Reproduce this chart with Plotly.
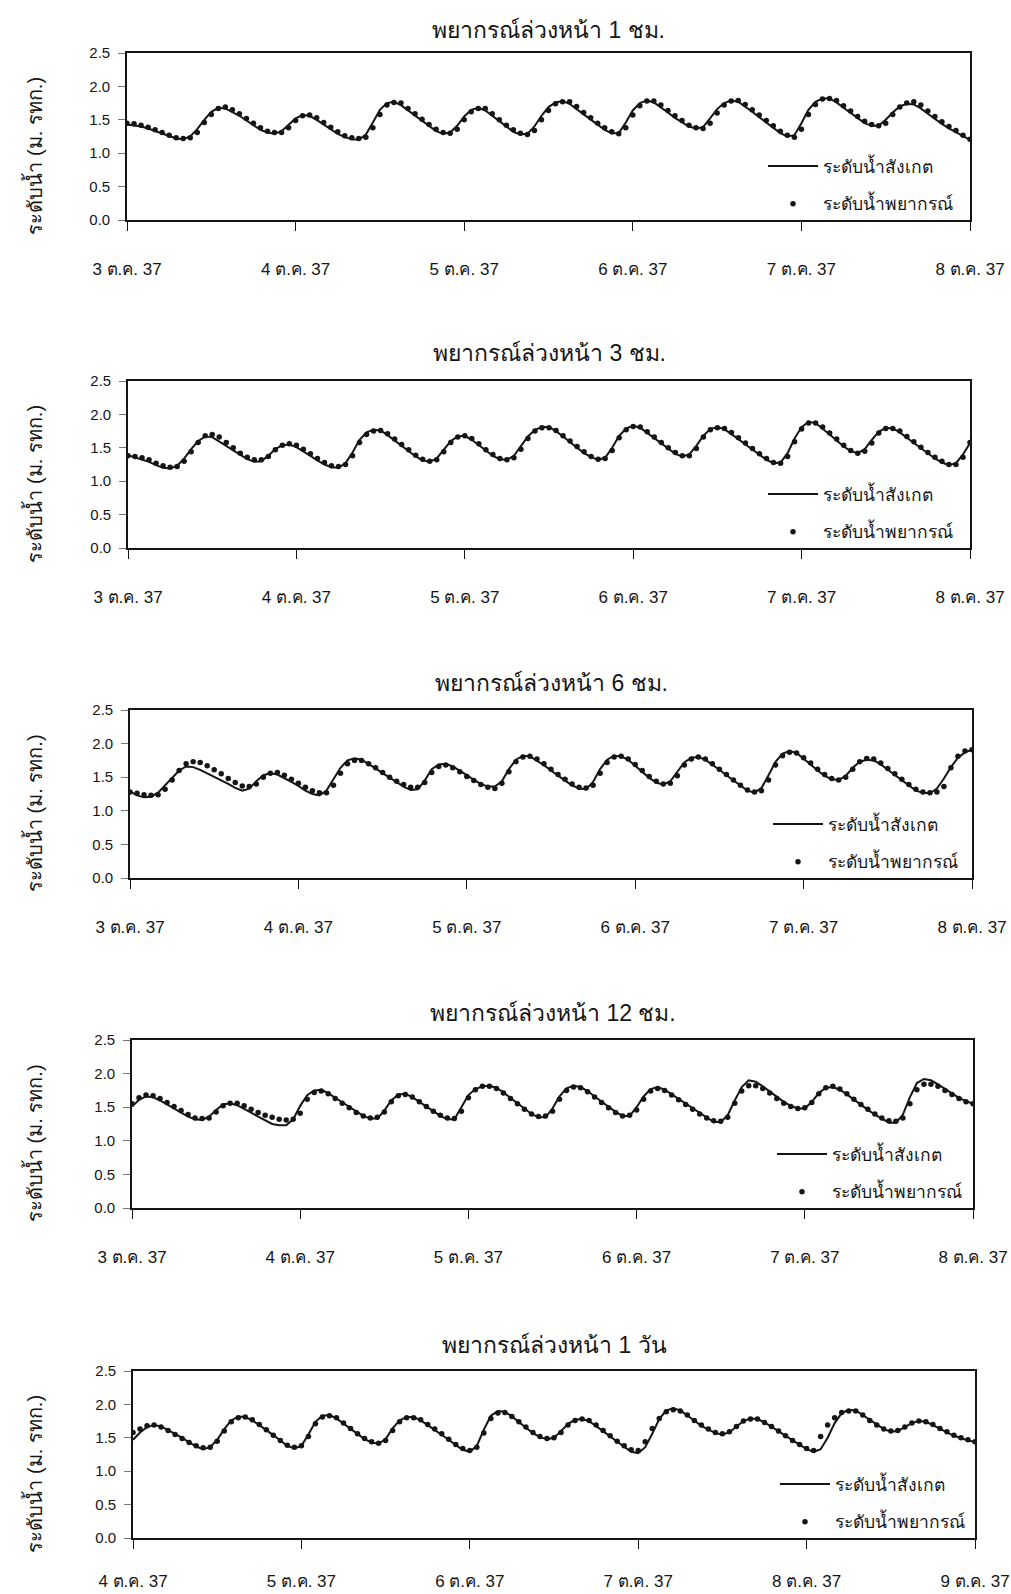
import plotly.graph_objects as go

W, H = 1011, 1594

titles = ["พยากรณ์ล่วงหน้า 1 ชม.", "พยากรณ์ล่วงหน้า 3 ชม.", "พยากรณ์ล่วงหน้า 6 ชม.",
          "พยากรณ์ล่วงหน้า 12 ชม.", "พยากรณ์ล่วงหน้า 1 วัน"]
y_title = "ระดับน้ำ (ม. รทก.)"
obs_name = "ระดับน้ำสังเกต"
pred_name = "ระดับน้ำพยากรณ์"
dates_a = ["3 ต.ค. 37", "4 ต.ค. 37", "5 ต.ค. 37", "6 ต.ค. 37", "7 ต.ค. 37", "8 ต.ค. 37"]
dates_b = ["4 ต.ค. 37", "5 ต.ค. 37", "6 ต.ค. 37", "7 ต.ค. 37", "8 ต.ค. 37", "9 ต.ค. 37"]
tick_hours = [0, 24, 48, 72, 96, 120]
hours = list(range(121))

# ---- 1 hour ahead ----
obs_1h = [1.43, 1.42, 1.40, 1.37, 1.33, 1.29, 1.25, 1.22, 1.21, 1.25, 1.36, 1.50, 1.62, 1.68, 1.67, 1.62, 1.56, 1.49, 1.42, 1.35, 1.31, 1.29, 1.33, 1.43,
          1.52, 1.57, 1.56, 1.50, 1.43, 1.36, 1.29, 1.24, 1.21, 1.20, 1.28, 1.46,
          1.65, 1.75, 1.77, 1.72, 1.64, 1.56, 1.48, 1.40, 1.33, 1.29, 1.31, 1.41,
          1.55, 1.65, 1.68, 1.64, 1.56, 1.47, 1.39, 1.32, 1.28, 1.29, 1.40, 1.56,
          1.69, 1.76, 1.78, 1.74, 1.66, 1.58, 1.50, 1.42, 1.35, 1.30, 1.30, 1.46,
          1.64, 1.75, 1.79, 1.76, 1.69, 1.61, 1.53, 1.46, 1.40, 1.37, 1.39, 1.52,
          1.66, 1.75, 1.79, 1.77, 1.70, 1.62, 1.54, 1.46, 1.38, 1.30, 1.25, 1.27,
          1.45, 1.65, 1.77, 1.82, 1.82, 1.76, 1.68, 1.60, 1.52, 1.45, 1.41, 1.41,
          1.50, 1.61, 1.70, 1.74, 1.73, 1.67, 1.59, 1.51, 1.44, 1.37, 1.31, 1.25, 1.20]
pred_1h = [1.45, 1.44, 1.42, 1.39, 1.35, 1.31, 1.27, 1.23, 1.22, 1.23, 1.31, 1.46, 1.58, 1.67, 1.69, 1.65, 1.59, 1.52, 1.45, 1.38, 1.33, 1.31, 1.31, 1.38,
           1.49, 1.56, 1.57, 1.53, 1.46, 1.39, 1.32, 1.26, 1.23, 1.22, 1.24, 1.38,
           1.58, 1.72, 1.76, 1.75, 1.67, 1.59, 1.51, 1.43, 1.36, 1.31, 1.30, 1.36,
           1.50, 1.62, 1.67, 1.67, 1.59, 1.50, 1.42, 1.35, 1.30, 1.28, 1.34, 1.50,
           1.64, 1.74, 1.77, 1.77, 1.70, 1.61, 1.53, 1.45, 1.38, 1.32, 1.29, 1.38,
           1.57, 1.71, 1.78, 1.78, 1.72, 1.64, 1.56, 1.49, 1.42, 1.38, 1.37, 1.45,
           1.60, 1.72, 1.78, 1.79, 1.73, 1.65, 1.57, 1.49, 1.41, 1.33, 1.27, 1.24,
           1.36, 1.58, 1.73, 1.81, 1.82, 1.79, 1.71, 1.63, 1.55, 1.48, 1.43, 1.41,
           1.45, 1.58, 1.69, 1.75, 1.77, 1.72, 1.63, 1.55, 1.47, 1.40, 1.34, 1.27, 1.21]

# ---- 3 hours ahead ----
obs_3h = [1.39, 1.36, 1.33, 1.29, 1.24, 1.20, 1.19, 1.23, 1.34, 1.48, 1.60, 1.67, 1.66, 1.60, 1.53, 1.46, 1.39, 1.33, 1.29, 1.30, 1.38, 1.48, 1.54, 1.55,
          1.51, 1.45, 1.38, 1.31, 1.25, 1.21, 1.20, 1.27, 1.43, 1.62, 1.73, 1.77,
          1.76, 1.69, 1.61, 1.53, 1.45, 1.37, 1.31, 1.29, 1.34, 1.47, 1.60, 1.67,
          1.68, 1.62, 1.54, 1.45, 1.38, 1.33, 1.32, 1.38, 1.52, 1.67, 1.77, 1.81,
          1.81, 1.75, 1.67, 1.58, 1.50, 1.42, 1.36, 1.32, 1.35, 1.50, 1.68, 1.79,
          1.83, 1.80, 1.72, 1.64, 1.56, 1.48, 1.41, 1.37, 1.40, 1.53, 1.68, 1.78,
          1.81, 1.78, 1.71, 1.63, 1.55, 1.47, 1.39, 1.32, 1.27, 1.28, 1.42, 1.64,
          1.81, 1.89, 1.87, 1.79, 1.70, 1.61, 1.52, 1.45, 1.42, 1.48, 1.62, 1.74,
          1.80, 1.79, 1.73, 1.65, 1.57, 1.49, 1.41, 1.34, 1.28, 1.24, 1.27, 1.40, 1.57]
pred_3h = [1.38, 1.37, 1.35, 1.32, 1.27, 1.23, 1.21, 1.22, 1.30, 1.44, 1.58, 1.68, 1.70, 1.66, 1.58, 1.50, 1.42, 1.36, 1.32, 1.32, 1.37, 1.47, 1.54, 1.56,
           1.54, 1.48, 1.41, 1.34, 1.28, 1.23, 1.22, 1.25, 1.38, 1.58, 1.70, 1.75,
           1.76, 1.71, 1.63, 1.55, 1.47, 1.39, 1.33, 1.30, 1.32, 1.44, 1.58, 1.66,
           1.68, 1.64, 1.56, 1.47, 1.40, 1.34, 1.32, 1.35, 1.48, 1.64, 1.75, 1.80,
           1.80, 1.76, 1.68, 1.60, 1.52, 1.44, 1.37, 1.33, 1.34, 1.46, 1.65, 1.77,
           1.82, 1.81, 1.74, 1.66, 1.58, 1.50, 1.43, 1.38, 1.38, 1.49, 1.66, 1.77,
           1.80, 1.79, 1.73, 1.65, 1.57, 1.49, 1.41, 1.34, 1.28, 1.27, 1.37, 1.59,
           1.78, 1.87, 1.87, 1.81, 1.72, 1.63, 1.54, 1.46, 1.42, 1.45, 1.57, 1.72,
           1.79, 1.79, 1.75, 1.67, 1.59, 1.51, 1.43, 1.36, 1.30, 1.25, 1.25, 1.36, 1.58]

# ---- 6 hours ahead ----
obs_6h = [1.29, 1.23, 1.20, 1.21, 1.27, 1.38, 1.50, 1.60, 1.66, 1.65, 1.61, 1.56, 1.51, 1.46, 1.40, 1.34, 1.30, 1.33, 1.44, 1.53, 1.56, 1.54, 1.49, 1.43,
          1.37, 1.30, 1.25, 1.23, 1.30, 1.47, 1.64, 1.75, 1.78, 1.76, 1.70, 1.63,
          1.56, 1.49, 1.42, 1.36, 1.31, 1.32, 1.45, 1.62, 1.69, 1.70, 1.66, 1.60,
          1.53, 1.46, 1.40, 1.36, 1.36, 1.44, 1.62, 1.76, 1.82, 1.81, 1.75, 1.68,
          1.60, 1.52, 1.45, 1.38, 1.33, 1.32, 1.43, 1.62, 1.76, 1.82, 1.81, 1.76,
          1.67, 1.58, 1.49, 1.42, 1.39, 1.44, 1.58, 1.72, 1.79, 1.80, 1.76, 1.69,
          1.61, 1.53, 1.45, 1.37, 1.30, 1.27, 1.34, 1.53, 1.73, 1.85, 1.89, 1.86,
          1.78, 1.69, 1.60, 1.52, 1.47, 1.46, 1.52, 1.64, 1.73, 1.76, 1.75, 1.69,
          1.61, 1.53, 1.45, 1.37, 1.30, 1.27, 1.26, 1.33, 1.48, 1.65, 1.79, 1.87, 1.91]
pred_6h = [1.28, 1.26, 1.24, 1.23, 1.24, 1.32, 1.46, 1.60, 1.70, 1.73, 1.72, 1.67, 1.61, 1.55, 1.48, 1.42, 1.37, 1.36, 1.40, 1.50, 1.56, 1.57, 1.53, 1.47,
           1.41, 1.35, 1.30, 1.27, 1.27, 1.38, 1.56, 1.70, 1.75, 1.75, 1.70, 1.64,
           1.57, 1.50, 1.44, 1.39, 1.35, 1.35, 1.42, 1.57, 1.66, 1.68, 1.64, 1.58,
           1.51, 1.45, 1.39, 1.35, 1.33, 1.41, 1.58, 1.73, 1.80, 1.81, 1.77, 1.70,
           1.62, 1.54, 1.47, 1.40, 1.35, 1.34, 1.38, 1.56, 1.72, 1.80, 1.81, 1.77,
           1.69, 1.60, 1.51, 1.44, 1.40, 1.41, 1.52, 1.68, 1.77, 1.80, 1.77, 1.70,
           1.62, 1.54, 1.46, 1.38, 1.31, 1.28, 1.30, 1.46, 1.68, 1.82, 1.87, 1.86,
           1.79, 1.71, 1.62, 1.54, 1.48, 1.46, 1.50, 1.62, 1.73, 1.78, 1.77, 1.71,
           1.63, 1.55, 1.47, 1.39, 1.32, 1.28, 1.27, 1.28, 1.36, 1.64, 1.81, 1.89, 1.91]

# ---- 12 hours ahead ----
obs_12h = [1.51, 1.61, 1.66, 1.65, 1.60, 1.54, 1.48, 1.42, 1.36, 1.32, 1.31, 1.36, 1.46, 1.54, 1.56, 1.53, 1.48, 1.42, 1.36, 1.30, 1.25, 1.23, 1.23, 1.32,
           1.52, 1.68, 1.75, 1.76, 1.71, 1.64, 1.57, 1.50, 1.43, 1.37, 1.33, 1.33,
           1.45, 1.60, 1.69, 1.70, 1.65, 1.58, 1.50, 1.43, 1.37, 1.32, 1.32, 1.50,
           1.68, 1.77, 1.81, 1.82, 1.79, 1.72, 1.64, 1.56, 1.48, 1.40, 1.35, 1.35,
           1.48, 1.66, 1.78, 1.82, 1.80, 1.74, 1.66, 1.58, 1.50, 1.43, 1.37, 1.37,
           1.50, 1.66, 1.77, 1.80, 1.76, 1.69, 1.62, 1.55, 1.48, 1.41, 1.34, 1.28,
           1.28, 1.38, 1.60, 1.80, 1.90, 1.88, 1.81, 1.73, 1.65, 1.58, 1.52, 1.48,
           1.48, 1.58, 1.71, 1.79, 1.80, 1.76, 1.69, 1.61, 1.53, 1.46, 1.39, 1.33,
           1.27, 1.27, 1.39, 1.65, 1.86, 1.92, 1.90, 1.84, 1.77, 1.70, 1.64, 1.59, 1.55]
pred_12h = [1.55, 1.64, 1.68, 1.67, 1.63, 1.57, 1.51, 1.45, 1.39, 1.34, 1.33, 1.34, 1.43, 1.52, 1.56, 1.56, 1.52, 1.47, 1.42, 1.38, 1.35, 1.32, 1.31, 1.32,
            1.41, 1.62, 1.72, 1.74, 1.70, 1.63, 1.56, 1.49, 1.42, 1.37, 1.34, 1.35,
            1.43, 1.58, 1.67, 1.69, 1.65, 1.58, 1.51, 1.44, 1.38, 1.34, 1.33, 1.44,
            1.64, 1.76, 1.81, 1.81, 1.78, 1.71, 1.63, 1.55, 1.47, 1.40, 1.36, 1.37,
            1.44, 1.62, 1.75, 1.80, 1.79, 1.73, 1.65, 1.57, 1.49, 1.42, 1.37, 1.38,
            1.46, 1.62, 1.74, 1.78, 1.75, 1.68, 1.61, 1.54, 1.47, 1.40, 1.34, 1.30,
            1.29, 1.35, 1.56, 1.74, 1.82, 1.82, 1.78, 1.71, 1.63, 1.56, 1.51, 1.48,
            1.49, 1.57, 1.70, 1.79, 1.81, 1.77, 1.70, 1.62, 1.54, 1.47, 1.40, 1.34,
            1.30, 1.29, 1.34, 1.55, 1.76, 1.84, 1.84, 1.81, 1.75, 1.69, 1.63, 1.58, 1.55]

# ---- 1 day ahead ----
obs_1d = [1.47, 1.58, 1.66, 1.69, 1.67, 1.62, 1.56, 1.50, 1.43, 1.37, 1.33, 1.36, 1.47, 1.63, 1.76, 1.82, 1.81, 1.76, 1.69, 1.62, 1.54, 1.46, 1.38, 1.34,
          1.38, 1.55, 1.74, 1.83, 1.84, 1.79, 1.71, 1.63, 1.55, 1.48, 1.43, 1.41,
          1.48, 1.64, 1.76, 1.81, 1.81, 1.76, 1.69, 1.62, 1.55, 1.47, 1.39, 1.32,
          1.29, 1.38, 1.62, 1.83, 1.90, 1.89, 1.82, 1.73, 1.65, 1.57, 1.51, 1.48,
          1.50, 1.60, 1.71, 1.77, 1.78, 1.75, 1.68, 1.60, 1.52, 1.44, 1.36, 1.29,
          1.27, 1.36, 1.56, 1.78, 1.91, 1.94, 1.91, 1.84, 1.76, 1.68, 1.62, 1.57,
          1.55, 1.58, 1.67, 1.75, 1.79, 1.78, 1.73, 1.67, 1.60, 1.53, 1.46, 1.39,
          1.33, 1.29, 1.33, 1.50, 1.72, 1.87, 1.92, 1.91, 1.84, 1.76, 1.69, 1.63,
          1.59, 1.60, 1.66, 1.72, 1.75, 1.74, 1.69, 1.63, 1.58, 1.53, 1.49, 1.46, 1.44]
pred_1d = [1.58, 1.63, 1.68, 1.69, 1.66, 1.61, 1.55, 1.49, 1.43, 1.38, 1.35, 1.36, 1.45, 1.60, 1.74, 1.80, 1.81, 1.77, 1.70, 1.62, 1.54, 1.46, 1.39, 1.36,
           1.38, 1.52, 1.71, 1.81, 1.83, 1.80, 1.72, 1.64, 1.56, 1.49, 1.44, 1.42,
           1.46, 1.61, 1.74, 1.80, 1.80, 1.77, 1.70, 1.63, 1.56, 1.48, 1.40, 1.34,
           1.31, 1.36, 1.57, 1.79, 1.87, 1.88, 1.82, 1.74, 1.66, 1.58, 1.52, 1.49,
           1.50, 1.58, 1.69, 1.76, 1.78, 1.76, 1.69, 1.61, 1.53, 1.45, 1.38, 1.32,
           1.31, 1.44, 1.64, 1.79, 1.89, 1.92, 1.90, 1.84, 1.76, 1.69, 1.63, 1.58,
           1.56, 1.59, 1.67, 1.75, 1.78, 1.78, 1.73, 1.67, 1.60, 1.53, 1.46, 1.40,
           1.34, 1.31, 1.52, 1.69, 1.80, 1.88, 1.90, 1.90, 1.84, 1.76, 1.69, 1.63,
           1.60, 1.61, 1.66, 1.72, 1.75, 1.74, 1.70, 1.64, 1.59, 1.54, 1.50, 1.47, 1.44]

observed = [obs_1h, obs_3h, obs_6h, obs_12h, obs_1d]
predicted = [pred_1h, pred_3h, pred_6h, pred_12h, pred_1d]
date_labels = [dates_a, dates_a, dates_a, dates_a, dates_b]

# plot-area boxes in pixels: left, right, top, bottom
boxes = [(127, 970, 53, 220), (128, 970, 381, 548), (130, 972, 710, 878),
         (132, 973, 1040, 1208), (133, 975, 1371, 1538)]
title_y = [30, 353, 683, 1013, 1345]
legend_x = [768, 768, 773, 777, 780]
label_standoff = [24, 24, 24, 24, 18]

FONT = "Liberation Sans, Arial, sans-serif"
INK = "#151515"

fig = go.Figure()
layout = dict(width=W, height=H,
              margin=dict(l=0, r=0, t=0, b=0, pad=0, autoexpand=False),
              paper_bgcolor="white", plot_bgcolor="white",
              font=dict(family=FONT, color=INK), annotations=[])

for i in range(5):
    n = "" if i == 0 else str(i + 1)
    L, R, T, B = boxes[i]
    leg = "legend" if i == 0 else "legend" + n
    fig.add_trace(go.Scatter(x=hours[:len(observed[i])], y=observed[i], mode="lines",
                             line=dict(color=INK, width=2), name=obs_name,
                             xaxis="x" + n, yaxis="y" + n, legend=leg,
                             legendgroup="o" + n))
    fig.add_trace(go.Scatter(x=hours[:len(predicted[i])], y=predicted[i], mode="markers",
                             marker=dict(color=INK, size=5.5), name=pred_name,
                             xaxis="x" + n, yaxis="y" + n, legend=leg,
                             legendgroup="p" + n))
    layout["xaxis" + n] = dict(
        domain=[L / W, R / W], anchor="y" + n, range=[0, 120], automargin=False,
        tickvals=tick_hours, ticktext=date_labels[i],
        showline=True, linecolor=INK, linewidth=1.6, mirror=True,
        ticks="outside", ticklen=9, tickwidth=1.2, tickcolor=INK,
        ticklabelstandoff=label_standoff[i], showgrid=False, zeroline=False,
        tickfont=dict(size=17, family=FONT, color=INK))
    layout["yaxis" + n] = dict(
        domain=[1 - B / H, 1 - T / H], anchor="x" + n, range=[0, 2.5], automargin=False,
        tickvals=[0, 0.5, 1.0, 1.5, 2.0, 2.5], tickformat=".1f",
        showline=True, linecolor=INK, linewidth=1.6, mirror=True,
        ticks="outside", ticklen=7, tickwidth=1, tickcolor="#777",
        ticklabelstandoff=5, showgrid=False, zeroline=False,
        tickfont=dict(size=15, family=FONT, color=INK))
    layout[leg] = dict(x=(legend_x[i] - 5) / W, y=1 - (B - 72) / H, xanchor="left", yanchor="top",
                       bgcolor="rgba(0,0,0,0)", borderwidth=0, itemwidth=50,
                       font=dict(size=17.5, family=FONT, color=INK),
                       traceorder="grouped", tracegroupgap=12)
    layout["annotations"].append(dict(
        text=titles[i], x=(L + R) / 2 / W, y=1 - title_y[i] / H, xref="paper", yref="paper",
        xanchor="center", yanchor="middle", showarrow=False,
        font=dict(size=23, family=FONT, color=INK)))
    layout["annotations"].append(dict(
        text=y_title, x=33 / W, y=1 - ((T + B) / 2 + 19) / H, xref="paper", yref="paper",
        xanchor="center", yanchor="middle", showarrow=False, textangle=-90,
        font=dict(size=20, family=FONT, color=INK)))

fig.update_layout(**layout)
fig.write_html("out.html")
